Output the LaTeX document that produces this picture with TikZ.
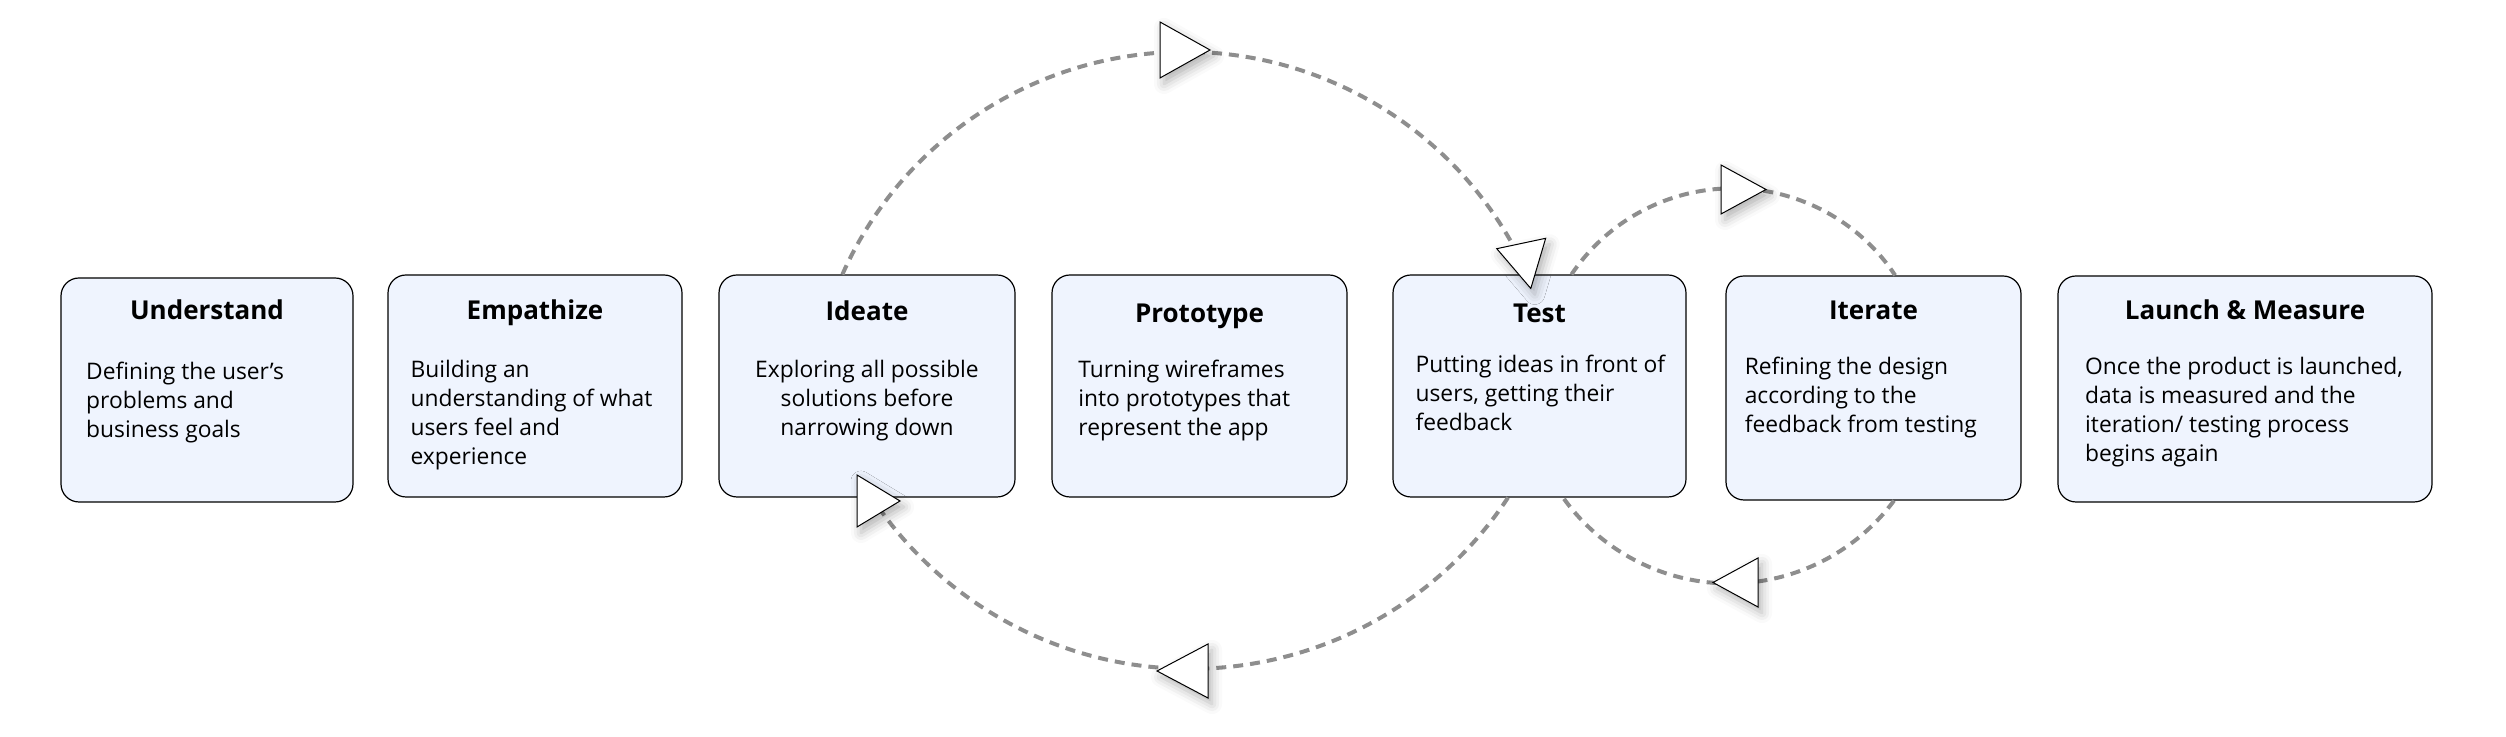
\documentclass[tikz,border=0pt]{standalone}
\usepackage{fontspec}
\setmainfont{Open Sans}
\usetikzlibrary{shadows.blur}
\definecolor{boxfill}{HTML}{EFF4FE}
\definecolor{dashgray}{HTML}{8E8E8E}
\newcommand{\arrowtri}[5]{%
  \path[tipshape] ([shift={(#3:#4/2)}]#1,#2)
    -- ([shift={(#3+180:#4/2)},shift={(#3+90:#5/2)}]#1,#2)
    -- ([shift={(#3+180:#4/2)},shift={(#3-90:#5/2)}]#1,#2) -- cycle;}
\begin{document}
\begin{tikzpicture}[x=0.5pt,y=0.5pt,
  stage/.style={draw=black, line width=0.6pt, fill=boxfill, rounded corners=9pt, inner sep=0pt},
  stagetitle/.style={anchor=base, font=\fontsize{13}{16}\selectfont\bfseries, inner sep=0pt},
  stagebody/.style={anchor=north west, align=left, font=\fontsize{11.4}{14.6}\selectfont, inner sep=0pt},
  stagebodyc/.style={anchor=north, align=center, font=\fontsize{11.4}{14.6}\selectfont, inner sep=0pt},
  conn/.style={draw=dashgray, line width=2pt, dash pattern=on 5pt off 3.5pt},
  tipshape/.style={draw=black, line width=0.5pt, fill=white,
    blur shadow={shadow xshift=2pt, shadow yshift=-3pt, shadow blur radius=5pt, shadow opacity=30}}
]
\useasboundingbox (0,0) rectangle (2506,737);

% boxes
\node[stage, minimum width=146pt, minimum height=112pt] (understand) at (207,347) {};
\node[stage, minimum width=147pt, minimum height=111pt] (empathize) at (535,351) {};
\node[stage, minimum width=148pt, minimum height=111pt] (ideate) at (867,351) {};
\node[stage, minimum width=147.5pt, minimum height=111pt] (prototype) at (1199.5,351) {};
\node[stage, minimum width=146.5pt, minimum height=111pt] (test) at (1539.5,351) {};
\node[stage, minimum width=147.5pt, minimum height=112pt] (iterate) at (1873.5,349) {};
\node[stage, minimum width=187pt, minimum height=113pt] (launch) at (2245,348) {};

% titles
\node[stagetitle] (understandT) at ([yshift=-21pt]understand.north) {Understand};
\node[stagetitle] (empathizeT) at ([yshift=-22.5pt]empathize.north) {Empathize};
\node[stagetitle] (ideateT) at ([yshift=-23pt]ideate.north) {Ideate};
\node[stagetitle] (prototypeT) at ([yshift=-24pt]prototype.north) {Prototype};
\node[stagetitle] (testT) at ([yshift=-24pt]test.north) {Test};
\node[stagetitle] (iterateT) at ([yshift=-22pt]iterate.north) {Iterate};
\node[stagetitle] (launchT) at ([yshift=-22pt]launch.north) {Launch \& Measure};

% bodies
\node[stagebody] (understandB) at ([xshift=12.7pt,yshift=-40.5pt]understand.north west)
  {\strut Defining the user’s\\problems and\\business goals};
\node[stagebody] (empathizeB) at ([xshift=11.4pt,yshift=-41pt]empathize.north west)
  {\strut Building an\\understanding of what\\users feel and\\experience};
\node[stagebodyc] (ideateB) at ([yshift=-41pt]ideate.north)
  {\strut Exploring all possible\\solutions before\\narrowing down};
\node[stagebody] (prototypeB) at ([xshift=13.3pt,yshift=-41pt]prototype.north west)
  {\strut Turning wireframes\\into prototypes that\\represent the app};
\node[stagebody] (testB) at ([xshift=11.4pt,yshift=-38.5pt]test.north west)
  {\strut Putting ideas in front of\\users, getting their\\feedback};
\node[stagebody] (iterateB) at ([xshift=9.5pt,yshift=-39pt]iterate.north west)
  {\strut Refining the design\\according to the\\feedback from testing};
\node[stagebody] (launchB) at ([xshift=13.7pt,yshift=-39pt]launch.north west)
  {\strut Once the product is launched,\\data is measured and the\\iteration/ testing process\\begins again};

% connectors
\draw[conn] ([xshift=-12.3pt]ideate.north) arc[start angle=156, end angle=23.7, radius=375];
\draw[conn] ([xshift=-15.75pt]test.south) arc[start angle=-33.4, end angle=-146.6, radius=381];
\draw[conn] ([xshift=16pt]test.north) arc[start angle=146.1, end angle=33.6, radius=194.6];
\draw[conn] ([xshift=10.25pt]iterate.south) arc[start angle=-36.5, end angle=-144.6, radius=204.5];

% arrow heads
\arrowtri{1185}{687}{0}{50}{56}
\arrowtri{1526}{471}{-78}{46}{50}
\arrowtri{1182.5}{66}{180}{51}{54}
\arrowtri{878.5}{236}{0}{43}{52}
\arrowtri{1743.5}{547.5}{0}{45}{49}
\arrowtri{1735.5}{154.5}{180}{45}{49}
\end{tikzpicture}
\end{document}
